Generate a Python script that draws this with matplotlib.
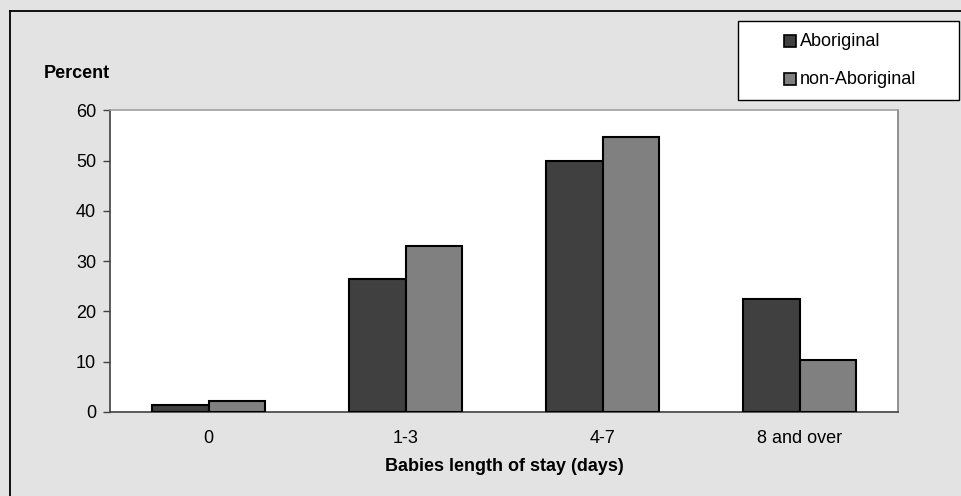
#! /usr/bin/env python3

import numpy as np
import matplotlib.pyplot as plt
from matplotlib.patches import Rectangle
from matplotlib.lines import Line2D

plt.rcParams['font.family'] = ['Liberation Sans', 'DejaVu Sans']

# length of stay groups and percentages
categories = ['0', '1-3', '4-7', '8 and over']
aboriginal = [1.3, 26.4, 50.0, 22.4]
non_aboriginal = [2.2, 33.0, 54.6, 10.3]
series_names = ['Aboriginal', 'non-Aboriginal']
y_ticks = [0, 10, 20, 30, 40, 50, 60]

W, H = 961, 496
BG = '#e3e3e3'
DARK = '#404040'
MID = '#808080'
FS = 13


def main():
    fig = plt.figure(figsize=(W / 100, H / 100), dpi=100, facecolor=BG)

    # outer frame (only top and left edges show)
    fig.add_artist(Line2D([10 / W, 1], [1 - 11 / H, 1 - 11 / H], color='black', lw=1.3))
    fig.add_artist(Line2D([10 / W, 10 / W], [0, 1 - 11 / H], color='black', lw=1.3))

    ax = fig.add_axes([110 / W, (H - 412) / H, 788 / W, 301.7 / H])
    ax.set_facecolor('white')

    x = np.arange(len(categories))
    width = 0.287
    ax.bar(x - width / 2, aboriginal, width, color=DARK, edgecolor='black', linewidth=1.5, zorder=3)
    ax.bar(x + width / 2, non_aboriginal, width, color=MID, edgecolor='black', linewidth=1.5, zorder=3)

    ax.set_xlim(-0.5, len(categories) - 0.5)
    ax.set_ylim(0, 60)
    ax.set_yticks(y_ticks)
    ax.set_xticks(x)
    ax.set_xticklabels(categories, fontsize=FS)
    ax.tick_params(axis='y', direction='out', length=5, width=1, color='#404040', labelsize=FS, pad=5)
    ax.tick_params(axis='x', length=0, pad=13)

    ax.spines['left'].set_color('#404040')
    ax.spines['bottom'].set_color('#404040')
    ax.spines['left'].set_linewidth(1.2)
    ax.spines['bottom'].set_linewidth(1.2)
    ax.spines['top'].set_color('#a0a0a0')
    ax.spines['right'].set_color('#808080')
    ax.spines['top'].set_linewidth(1.2)
    ax.spines['right'].set_linewidth(1.2)

    ax.set_xlabel('Babies length of stay (days)', fontsize=FS, fontweight='bold', labelpad=8)
    fig.text(44 / W, 1 - 74 / H, 'Percent', fontsize=FS, fontweight='bold', va='center', ha='left')

    # legend box
    fig.add_artist(Rectangle((738 / W, 1 - 100 / H), 221 / W, 79 / H, transform=fig.transFigure,
                             facecolor='white', edgecolor='black', lw=1))
    for i, (name, col) in enumerate(zip(series_names, [DARK, MID])):
        yc = 41 + i * 38
        fig.add_artist(Rectangle((784 / W, 1 - (yc + 6) / H), 12 / W, 12 / H, transform=fig.transFigure,
                                 facecolor=col, edgecolor='black', lw=1.2))
        fig.text(800 / W, 1 - yc / H, name, fontsize=FS, va='center', ha='left')

    fig.savefig('out.png', dpi=100, facecolor=BG)


if __name__ == "__main__":
    main()
